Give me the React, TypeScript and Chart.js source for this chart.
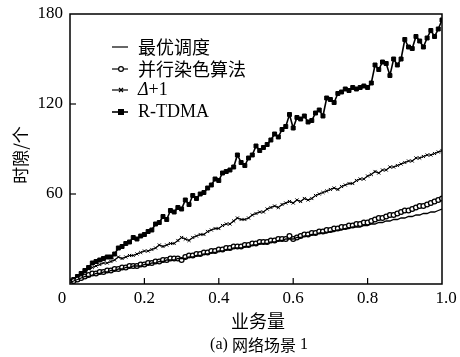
import React, { useEffect, useRef } from "react";
import { Chart, registerables } from "chart.js";

Chart.register(...registerables);

const xValues: number[] = Array.from({ length: 101 }, (_, i) => i / 100);

const rtdma: number[] = [
  2, 3, 5, 7, 9, 11, 14, 15, 16, 17,
  18, 18, 20, 24, 25, 27, 28, 31, 30, 32,
  33, 35, 36, 40, 41, 45, 43, 49, 48, 51,
  50, 56, 53, 59, 57, 60, 61, 64, 66, 70,
  69, 74, 75, 76, 78, 86, 81, 79, 84, 86,
  92, 89, 91, 93, 96, 100, 98, 103, 105, 113,
  104, 111, 110, 112, 108, 109, 114, 116, 112, 124,
  123, 121, 127, 128, 130, 129, 131, 130, 131, 132,
  131, 134, 146, 143, 148, 147, 139, 150, 146, 150,
  163, 158, 157, 165, 162, 158, 164, 169, 165, 170,
  176,
];

const deltaPlus1: number[] = [
  1, 2, 4, 6, 8, 10, 11, 12, 13, 14,
  14, 15, 16, 18, 17, 18, 19, 19, 20, 21,
  22, 22, 23, 24, 26, 25, 26, 27, 27, 29,
  31, 30, 29, 31, 32, 33, 33, 35, 36, 37,
  37, 39, 40, 40, 42, 44, 43, 43, 44, 46,
  47, 48, 48, 50, 51, 52, 51, 53, 54, 55,
  54, 56, 55, 57, 56, 57, 59, 60, 61, 62,
  63, 64, 63, 65, 66, 67, 67, 69, 70, 70,
  72, 73, 75, 74, 76, 76, 78, 78, 79, 80,
  81, 82, 82, 84, 84, 85, 86, 86, 87, 88,
  89,
];

const parallelColoring: number[] = [
  1, 2, 3, 4, 5, 6, 7, 7, 8, 8,
  9, 9, 10, 10, 11, 11, 12, 12, 12, 13,
  13, 14, 14, 15, 15, 16, 16, 17, 17, 17,
  16, 18, 19, 19, 20, 20, 21, 21, 22, 22,
  23, 23, 24, 24, 25, 25, 25, 26, 26, 27,
  27, 28, 28, 28, 29, 29, 30, 30, 30, 32,
  30, 31, 32, 33, 33, 34, 34, 35, 35, 36,
  36, 37, 37, 38, 38, 39, 39, 40, 40, 41,
  41, 42, 43, 44, 44, 45, 46, 46, 47, 48,
  49, 49, 50, 51, 52, 52, 53, 54, 55, 56,
  57,
];

const optimal: number[] = [
  1, 2, 3, 4, 5, 5, 6, 7, 7, 8,
  8, 9, 9, 10, 10, 11, 11, 12, 12, 12,
  13, 13, 14, 14, 15, 15, 16, 16, 16, 17,
  17, 17, 18, 18, 19, 19, 20, 20, 21, 21,
  22, 22, 23, 23, 24, 24, 24, 25, 25, 26,
  26, 27, 27, 27, 28, 28, 29, 29, 30, 30,
  30, 31, 31, 32, 32, 33, 33, 34, 34, 34,
  35, 35, 36, 36, 37, 37, 38, 38, 38, 39,
  39, 40, 40, 41, 41, 42, 42, 43, 43, 44,
  44, 45, 45, 46, 46, 47, 47, 48, 48, 49,
  50,
];

const xTicks: number[] = [0, 0.2, 0.4, 0.6, 0.8, 1.0];
const yTicks: number[] = [0, 60, 120, 180];
const legendLabels: string[] = ["最优调度", "并行染色算法", "Δ+1", "R-TDMA"];

const SERIF = "'Liberation Serif', 'Times New Roman', serif";
const CJK = "'Noto Sans CJK SC', sans-serif";

const toPoints = (ys: number[]) => ys.map((y, i) => ({ x: xValues[i], y }));

export default function App() {
  const ref = useRef<HTMLCanvasElement | null>(null);

  useEffect(() => {
    if (!ref.current) return;

    const decor = {
      id: "decor",
      afterDraw(chart: any) {
        const { ctx, chartArea } = chart;
        const { left, right, top, bottom } = chartArea;
        const xs = chart.scales.x;
        const ys = chart.scales.y;
        ctx.save();
        // frame
        ctx.strokeStyle = "#000";
        ctx.lineWidth = 1.5;
        ctx.strokeRect(left, top, right - left, bottom - top);
        // inward ticks
        ctx.lineWidth = 1.2;
        xTicks.slice(1, -1).forEach((v) => {
          const px = xs.getPixelForValue(v);
          ctx.beginPath();
          ctx.moveTo(px, bottom);
          ctx.lineTo(px, bottom - 6);
          ctx.stroke();
        });
        yTicks.slice(1, -1).forEach((v) => {
          const py = ys.getPixelForValue(v);
          ctx.beginPath();
          ctx.moveTo(left, py);
          ctx.lineTo(left + 6, py);
          ctx.stroke();
        });
        // tick labels
        ctx.fillStyle = "#000";
        ctx.font = `17px ${SERIF}`;
        ctx.textAlign = "center";
        ctx.textBaseline = "middle";
        xTicks.forEach((v) => {
          const px = xs.getPixelForValue(v);
          const label = v === 0 ? "0" : v.toFixed(1);
          ctx.fillText(label, v === 0 ? px - 8 : px + (v === 1 ? 4 : 0), 299);
        });
        ctx.textAlign = "right";
        yTicks.slice(1).forEach((v) => {
          const py = ys.getPixelForValue(v);
          ctx.fillText(String(v), left - 7, py);
        });
        // axis titles
        ctx.font = `18px ${CJK}`;
        ctx.textAlign = "center";
        ctx.fillText("业务量", 258, 321);
        const cap1 = "(a) ";
        ctx.font = `16px ${SERIF}`;
        const w1 = ctx.measureText(cap1).width;
        ctx.font = `16px ${CJK}`;
        const w2 = ctx.measureText("网络场景").width;
        ctx.font = `16px ${SERIF}`;
        const w3 = ctx.measureText(" 1").width;
        let cx = 259 - (w1 + w2 + w3) / 2;
        ctx.textAlign = "left";
        ctx.fillText(cap1, cx, 345);
        cx += w1;
        ctx.font = `16px ${CJK}`;
        ctx.fillText("网络场景", cx, 345);
        cx += w2;
        ctx.font = `16px ${SERIF}`;
        ctx.fillText(" 1", cx, 345);

        ctx.save();
        ctx.translate(21, 155);
        ctx.rotate(-Math.PI / 2);
        ctx.textAlign = "center";
        ctx.font = `17px ${CJK}`;
        ctx.fillText("时隙/个", 0, 0);
        ctx.restore();

        // legend
        const rows = [47, 69, 90, 112];
        const lx0 = 112;
        const lx1 = 128;
        rows.forEach((ry, i) => {
          ctx.strokeStyle = "#000";
          ctx.lineWidth = i === 3 ? 1.6 : 1.2;
          ctx.beginPath();
          ctx.moveTo(lx0, ry);
          ctx.lineTo(lx1, ry);
          ctx.stroke();
          const mx = (lx0 + lx1) / 2 + 1;
          if (i === 1) {
            ctx.beginPath();
            ctx.arc(mx, ry, 2.4, 0, Math.PI * 2);
            ctx.fillStyle = "#fff";
            ctx.fill();
            ctx.stroke();
          } else if (i === 2) {
            ctx.beginPath();
            ctx.moveTo(mx - 2, ry - 2);
            ctx.lineTo(mx + 2, ry + 2);
            ctx.moveTo(mx - 2, ry + 2);
            ctx.lineTo(mx + 2, ry - 2);
            ctx.stroke();
          } else if (i === 3) {
            ctx.fillStyle = "#000";
            ctx.fillRect(mx - 3, ry - 3, 6, 6);
          }
          ctx.fillStyle = "#000";
          ctx.textAlign = "left";
          const label = legendLabels[i];
          if (i === 2) {
            ctx.font = `italic 18px ${SERIF}`;
            ctx.fillText("Δ", 138, ry);
            const wd = ctx.measureText("Δ").width;
            ctx.font = `18px ${SERIF}`;
            ctx.fillText("+1", 138 + wd, ry);
          } else if (i === 3) {
            ctx.font = `18px ${SERIF}`;
            ctx.fillText(label, 138, ry);
          } else {
            ctx.font = `18px ${CJK}`;
            ctx.fillText(label, 138, ry);
          }
        });
        ctx.restore();
      },
    };

    const chart = new Chart(ref.current, {
      type: "line",
      data: {
        datasets: [
          {
            label: legendLabels[0],
            data: toPoints(optimal),
            borderColor: "#000",
            borderWidth: 1.3,
            pointRadius: 0,
            tension: 0,
          },
          {
            label: legendLabels[1],
            data: toPoints(parallelColoring),
            borderColor: "#000",
            borderWidth: 2,
            pointStyle: "circle",
            pointRadius: 2.4,
            pointBorderWidth: 1.3,
            pointBackgroundColor: "#fff",
            pointBorderColor: "#000",
            tension: 0,
          },
          {
            label: legendLabels[2],
            data: toPoints(deltaPlus1),
            borderColor: "#000",
            borderWidth: 1.2,
            pointStyle: "crossRot",
            pointRadius: 2.2,
            pointBorderWidth: 1,
            pointBorderColor: "#000",
            tension: 0,
          },
          {
            label: legendLabels[3],
            data: toPoints(rtdma),
            borderColor: "#000",
            borderWidth: 1.6,
            pointStyle: "rect",
            pointRadius: 2.8,
            pointBorderWidth: 1,
            pointBackgroundColor: "#000",
            pointBorderColor: "#000",
            tension: 0,
          },
        ],
      },
      options: {
        animation: false,
        responsive: false,
        maintainAspectRatio: false,
        layout: { padding: { left: 0, right: 18, top: 14, bottom: 0 } },
        plugins: { legend: { display: false }, tooltip: { enabled: false } },
        scales: {
          x: {
            type: "linear",
            min: 0,
            max: 1,
            ticks: { display: false },
            grid: { display: false },
            border: { display: false },
            afterFit: (s: any) => {
              s.height = 73;
            },
          },
          y: {
            min: 0,
            max: 180,
            ticks: { display: false, stepSize: 60 },
            grid: { display: false },
            border: { display: false },
            afterFit: (s: any) => {
              s.width = 70;
            },
          },
        },
      },
      plugins: [decor],
    } as any);

    return () => chart.destroy();
  }, []);

  return (
    <div style={{ position: "absolute", left: 0, top: 0, width: 460, height: 357, background: "#fff" }}>
      <canvas ref={ref} width={460} height={357} style={{ width: 460, height: 357 }} />
    </div>
  );
}
